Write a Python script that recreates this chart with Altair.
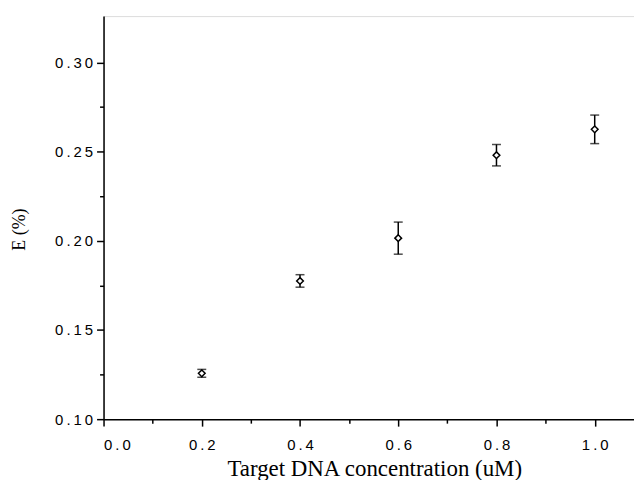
import altair as alt
import pandas as pd

conc = [0.2, 0.4, 0.6, 0.8, 1.0]
E = [0.1257, 0.1775, 0.2015, 0.2480, 0.2625]
err = [0.0022, 0.0035, 0.0090, 0.0060, 0.0080]

df = pd.DataFrame({"x": conc, "y": E,
                   "lo": [e - s for e, s in zip(E, err)],
                   "hi": [e + s for e, s in zip(E, err)]})

x_vals = [round(0.1 * i, 1) for i in range(0, 11)]
y_vals = [round(0.10 + 0.025 * i, 3) for i in range(0, 9)]

xs = alt.Scale(domain=[0, 1.08], nice=False, zero=False)
ys = alt.Scale(domain=[0.10, 0.326], nice=False, zero=False)

x_axis = alt.Axis(
    values=x_vals, grid=False, domainColor="black", domainWidth=1.5,
    tickColor="black", tickWidth=1.5,
    tickSize={"condition": {"test": "round(datum.value*10) % 2 == 0", "value": 7}, "value": 4},
    labelExpr="round(datum.value*10) % 2 == 0 ? join(split(format(datum.value, '.1f'), ''), '\u2009') : ''",
    labelFont="Liberation Sans", labelFontSize=15, labelColor="black", labelPadding=11,
    title="Target DNA concentration (uM)", titleFont="Liberation Serif",
    titleFontSize=23, titleFontWeight="normal", titleColor="black",
    titleX=272, titleY=57, titleAlign="center", titleBaseline="alphabetic",
)
y_axis = alt.Axis(
    values=y_vals, grid=False, domainColor="black", domainWidth=1.5,
    tickColor="black", tickWidth=1.5,
    tickSize={"condition": {"test": "round(datum.value*1000) % 50 == 0", "value": 7}, "value": 4},
    labelExpr="round(datum.value*1000) % 50 == 0 ? join(split(format(datum.value, '.2f'), ''), '\u2009') : ''",
    labelFont="Liberation Sans", labelFontSize=15, labelColor="black", labelPadding=4,
    title="E (%)", titleFont="Liberation Serif", titleFontSize=18,
    titleFontWeight="normal", titleColor="black",
    titleX=-79, titleY=214, titleAlign="center", titleBaseline="alphabetic", titleAngle=270,
)

base = alt.Chart(df)
bars = base.mark_rule(color="black", strokeWidth=1.5).encode(
    x=alt.X("x:Q", scale=xs, axis=x_axis),
    y=alt.Y("lo:Q", scale=ys, axis=y_axis),
    y2="hi:Q",
)
cap_lo = base.mark_tick(color="black", orient="horizontal", size=9, thickness=1.5).encode(
    x=alt.X("x:Q", scale=xs), y=alt.Y("lo:Q", scale=ys))
cap_hi = base.mark_tick(color="black", orient="horizontal", size=9, thickness=1.5).encode(
    x=alt.X("x:Q", scale=xs), y=alt.Y("hi:Q", scale=ys))
pts = base.mark_point(shape="diamond", filled=True, fill="white", stroke="black",
                      strokeWidth=1.5, size=45, opacity=1).encode(
    x=alt.X("x:Q", scale=xs), y=alt.Y("y:Q", scale=ys))

chart = alt.layer(bars, cap_lo, cap_hi, pts).properties(
    width=533, height=405,
    autosize=alt.AutoSizeParams(type="none"),
    padding={"left": 96, "top": 7, "right": 0, "bottom": 60},
).configure_view(stroke=None).configure(background="white")

chart.save("out.html", embed_options={"renderer": "svg", "actions": False})
